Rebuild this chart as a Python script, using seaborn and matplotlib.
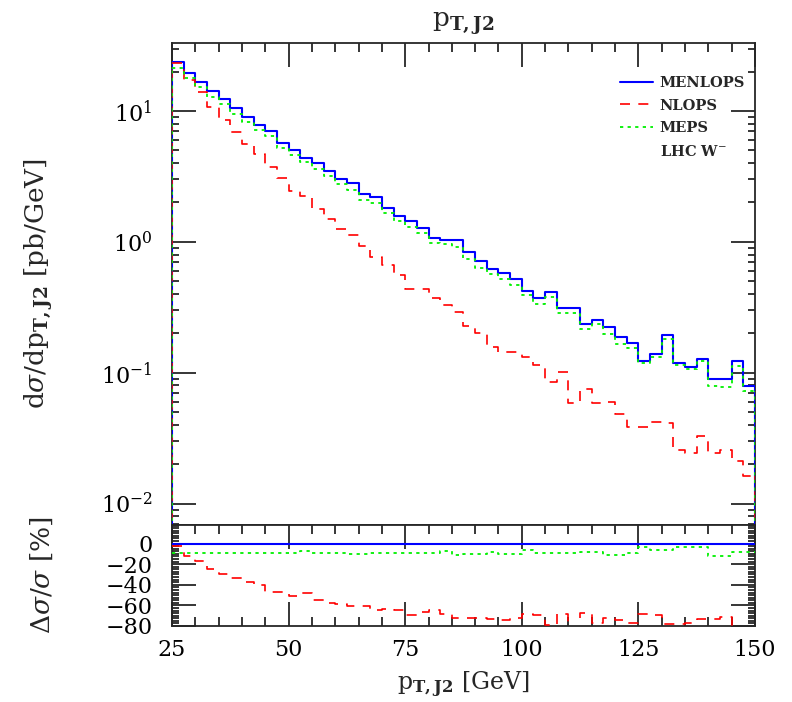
import numpy as np
import pandas as pd
import matplotlib
matplotlib.use("Agg")
import matplotlib.pyplot as plt
from matplotlib.ticker import MultipleLocator, LogLocator, NullFormatter, FixedLocator
from matplotlib.lines import Line2D
import seaborn as sns

# ---------------- data ----------------
bin_edges = [float(e) for e in np.arange(25.0, 150.01, 2.5)]
bin_centers = [0.5 * (a + b) for a, b in zip(bin_edges[:-1], bin_edges[1:])]

menlops = [23.6, 19.6, 16.7, 14.2, 12.4, 10.5, 9.04, 7.85, 7.03, 5.73,
           5.03, 4.35, 3.98, 3.47, 3.02, 2.80, 2.33, 2.19, 1.82, 1.58,
           1.44, 1.28, 1.08, 1.03, 1.03, 0.83, 0.71, 0.617, 0.581, 0.523,
           0.423, 0.370, 0.413, 0.315, 0.315, 0.234, 0.254, 0.222, 0.188, 0.169,
           0.122, 0.140, 0.194, 0.119, 0.110, 0.128, 0.0903, 0.0888, 0.123, 0.0794]

nlops = [23.1, 17.4, 14.0, 10.8, 8.6, 6.95, 5.55, 4.70, 3.72, 3.06,
         2.46, 2.23, 1.78, 1.49, 1.25, 1.12, 0.93, 0.77, 0.665, 0.556,
         0.436, 0.436, 0.375, 0.330, 0.289, 0.228, 0.201, 0.157, 0.143, 0.145,
         0.131, 0.115, 0.085, 0.101, 0.0589, 0.0754, 0.0582, 0.0600, 0.0485, 0.0387,
         0.0386, 0.0420, 0.0414, 0.0255, 0.0242, 0.0326, 0.0242, 0.0255, 0.0213, 0.0163]

meps = [21.5, 17.8, 15.2, 12.9, 11.3, 9.56, 8.23, 7.14, 6.40, 5.21,
        4.58, 4.05, 3.62, 3.16, 2.75, 2.51, 2.10, 1.99, 1.66, 1.44,
        1.31, 1.16, 0.983, 0.958, 0.917, 0.743, 0.635, 0.568, 0.523, 0.471,
        0.396, 0.337, 0.376, 0.287, 0.287, 0.215, 0.234, 0.196, 0.166, 0.154,
        0.118, 0.131, 0.181, 0.115, 0.106, 0.124, 0.0795, 0.0781, 0.113, 0.0730]

ratio_menlops = [0.0] * 50
ratio_nlops = [-2, -12.4, -17, -24.8, -29.4, -33.3, -37.6, -39.9, -46.7, -46.7,
               -51.3, -47.7, -54.9, -57.2, -58.8, -60.4, -60.4, -64.7, -63.7, -64.7,
               -69.2, -66, -64.3, -68.6, -71.9, -71.9, -72, -73.5, -74.5, -72,
               -68.6, -69.2, -79, -68, -81, -67.7, -76.8, -72.5, -74.5, -76.8,
               -68, -69.2, -78.4, -78.4, -76.8, -73.5, -73.5, -71.4, -83, -84]
ratio_meps = [-9, -9, -9, -9, -9, -9, -9, -9, -9, -9,
              -9, -7, -9, -9, -9, -10.5, -10, -9, -9, -9,
              -9, -9, -9, -7, -11, -10.5, -10.5, -8, -10, -10,
              -6.5, -9, -9, -9, -9, -8, -8, -11.5, -11.5, -9,
              -3.5, -6.5, -6.5, -3.5, -3.5, -3.5, -12, -12, -8, -8]

series_names = ["MENLOPS", "NLOPS", "MEPS"]
extra_label = "LHC W$^{-}$"
title_text = r"$\mathrm{p}_{\mathbf{T,J2}}$"
xlabel_text = r"$\mathrm{p}_{\mathbf{T,J2}}$ [GeV]"
ylabel_top = r"d$\sigma$/dp$_{\mathbf{T,J2}}$ [pb/GeV]"
ylabel_bot = r"$\Delta\sigma/\sigma$ [%]"

# ---------------- style ----------------
sns.set_style("ticks")
plt.rcParams["font.family"] = ["DejaVu Serif"]
plt.rcParams["mathtext.fontset"] = "dejavuserif"
plt.rcParams["axes.linewidth"] = 1.3

colors = {"MENLOPS": "#0000ff", "NLOPS": "#ff0000", "MEPS": "#00f000"}
styles = {"MENLOPS": dict(linestyle="-", linewidth=1.5, zorder=3),
          "NLOPS": dict(linestyle=(0, (6, 5)), linewidth=1.2, zorder=4),
          "MEPS": dict(linestyle=(0, (1.8, 2.4)), linewidth=1.3, zorder=5)}

fig = plt.figure(figsize=(7.92, 7.02), dpi=100)
ax_top = fig.add_axes([172 / 792, 1 - 525 / 702, 583 / 792, 482 / 702])
ax_bot = fig.add_axes([172 / 792, 1 - 626 / 702, 583 / 792, 101 / 702])


def draw_step(ax, vals, name):
    df = pd.DataFrame({"pt": bin_centers, "w": vals})
    sns.histplot(data=df, x="pt", weights="w", bins=bin_edges, element="step",
                 fill=False, color=colors[name], ax=ax, **styles[name])


ax_top.set_yscale("log")
top_vals = {"MENLOPS": menlops, "NLOPS": nlops, "MEPS": meps}
bot_vals = {"MENLOPS": ratio_menlops, "NLOPS": ratio_nlops, "MEPS": ratio_meps}
for name in series_names:
    draw_step(ax_top, top_vals[name], name)
    draw_step(ax_bot, bot_vals[name], name)

# drop the histogram outline to the axis at both ends (top panel)
for name in series_names:
    v = top_vals[name]
    ax_top.vlines([bin_edges[0], bin_edges[-1]], 1e-4, [v[0], v[-1]],
                  color=colors[name], **styles[name])

# ---------------- axes ----------------
ax_top.set_xlim(25, 150)
ax_top.set_ylim(0.00686, 33.1)
ax_top.xaxis.set_major_locator(MultipleLocator(25))
ax_top.xaxis.set_minor_locator(MultipleLocator(5))
ax_top.yaxis.set_major_locator(LogLocator(base=10, numticks=10))
ax_top.yaxis.set_minor_locator(LogLocator(base=10, subs=np.arange(2, 10), numticks=50))
ax_top.yaxis.set_minor_formatter(NullFormatter())
ax_top.tick_params(axis="both", which="both", direction="in", top=True, right=True,
                   bottom=False, labelbottom=False, width=1.1, colors="black")
ax_top.tick_params(axis="x", which="major", length=17)
ax_top.tick_params(axis="x", which="minor", length=6.5)
ax_top.tick_params(axis="y", which="major", length=17, pad=14, labelsize=16)
ax_top.tick_params(axis="y", which="minor", length=5)
ax_top.set_xlabel("")
ax_top.set_ylabel(ylabel_top, fontsize=19)
ax_top.yaxis.set_label_coords(-0.20, 0.5)
ax_top.set_title(title_text, fontsize=19, pad=12)

ax_bot.set_xlim(25, 150)
ax_bot.set_ylim(-80, 18)
ax_bot.xaxis.set_major_locator(MultipleLocator(25))
ax_bot.xaxis.set_minor_locator(MultipleLocator(5))
ax_bot.yaxis.set_major_locator(FixedLocator([0, -20, -40, -60, -80]))
ax_bot.yaxis.set_minor_locator(MultipleLocator(2.5))
ax_bot.tick_params(axis="both", which="both", direction="in", top=True, right=True,
                   width=1.1, colors="black")
ax_bot.tick_params(axis="x", which="major", length=17, pad=9, labelsize=16)
ax_bot.tick_params(axis="x", which="minor", length=6.5)
ax_bot.tick_params(axis="y", which="major", length=17, pad=14, labelsize=16)
ax_bot.tick_params(axis="y", which="minor", length=5)
ax_bot.set_xlabel(xlabel_text, fontsize=17)
ax_bot.xaxis.set_label_coords(0.5, -0.43)
ax_bot.set_ylabel(ylabel_bot, fontsize=19)
ax_bot.yaxis.set_label_coords(-0.20, 0.5)

# ---------------- legend ----------------
handles = [Line2D([], [], color=colors[n], linestyle=styles[n]["linestyle"],
                  linewidth=styles[n]["linewidth"]) for n in series_names]
handles.append(Line2D([], [], color="none"))
labels = series_names + [extra_label]
leg = ax_top.legend(handles, labels, loc="upper left", bbox_to_anchor=(0.768, 0.932),
                    frameon=False, borderpad=0, borderaxespad=0, labelspacing=0.6,
                    handlelength=2.3, handletextpad=0.45,
                    prop={"family": "DejaVu Serif", "weight": "bold", "size": 10.5})

fig.savefig("out.png", dpi=100)
